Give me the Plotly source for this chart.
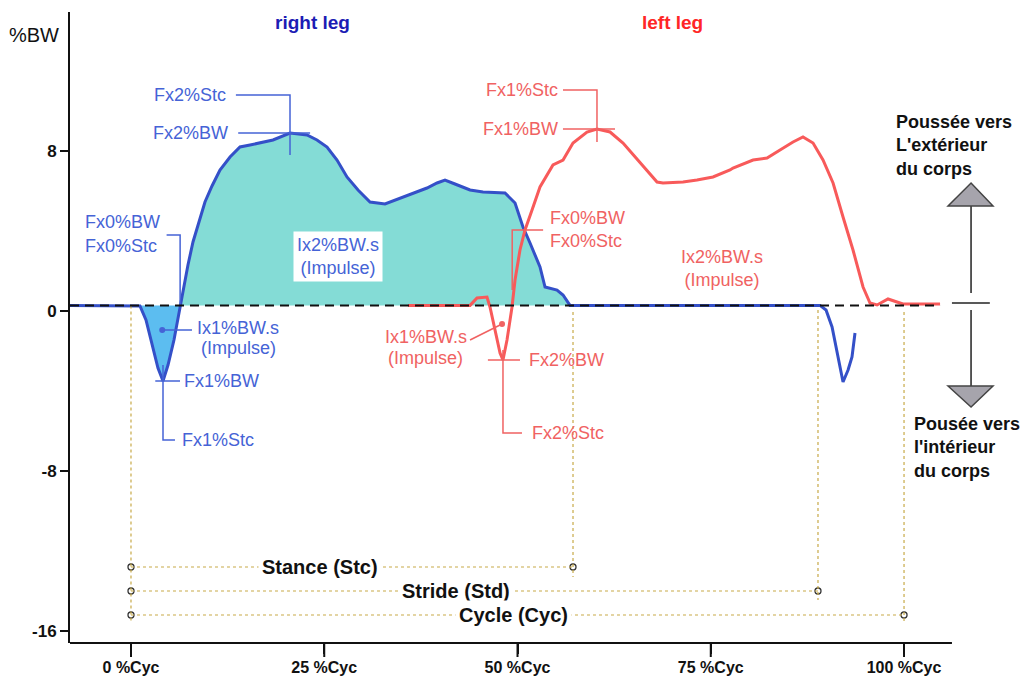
import numpy as np
import plotly.graph_objects as go

# Medio-lateral ground reaction force over one gait cycle
# x: % of gait cycle, y: force in % body weight
right_x = [-7.9, 0.0, 1.16, 1.94, 2.72, 3.49, 4.14, 4.79, 5.56, 6.34, 6.86, 7.37, 8.02,
           8.67, 9.57, 10.48, 11.51, 12.81, 14.1, 15.4, 16.69, 18.37, 20.57, 21.86, 22.77,
           24.06, 25.36, 26.65, 27.94, 29.37, 30.92, 32.86, 34.8, 36.74, 38.29, 39.59,
           40.62, 41.91, 43.86, 45.54, 48.38, 49.68, 50.71, 51.62, 52.91, 53.56, 55.11,
           55.89, 56.79, 89.13, 89.91, 90.69, 91.46, 92.11, 92.76, 93.27, 93.66]
right_y = [0.28, 0.28, 0.25, -0.45, -1.7, -2.85, -3.5, -2.7, -1.45, 0.25, 1.3, 2.3, 3.45,
           4.3, 5.45, 6.25, 7.05, 7.7, 8.2, 8.3, 8.4, 8.55, 8.9, 8.85, 8.8,
           8.55, 8.2, 7.55, 6.7, 6.05, 5.45, 5.35, 5.65, 5.95, 6.15, 6.4,
           6.55, 6.35, 6.05, 5.95, 5.9, 5.4, 4.2, 3.4, 2.2, 1.2, 1.05,
           0.8, 0.28, 0.28, 0.05, -0.8, -2.2, -3.55, -2.95, -2.3, -1.1]

left_x = [35.83, 43.86, 44.76, 46.05, 46.44, 47.09, 47.74, 48.12, 48.64, 49.29, 49.68,
          50.32, 50.97, 51.88, 52.91, 54.59, 55.89, 57.18, 58.99, 60.28, 61.97, 63.65,
          65.85, 68.05, 68.82, 71.41, 73.22, 75.29, 77.49, 77.88, 80.47, 82.28, 83.96,
          85.64, 86.93, 88.23, 89.52, 90.82, 92.11, 93.4, 94.7, 95.6, 96.51, 97.28,
          97.93, 99.09, 99.87, 104.66]
left_y = [0.28, 0.28, 0.65, 0.7, 0.2, -0.95, -2.1, -2.45, -1.45, 0.2, 1.55,
          3.05, 4.05, 5.05, 6.2, 7.3, 7.55, 8.4, 8.95, 9.1, 8.95, 8.4,
          7.4, 6.45, 6.4, 6.45, 6.55, 6.7, 7.05, 7.15, 7.55, 7.65, 8.05,
          8.45, 8.7, 8.4, 7.55, 6.4, 4.7, 3.05, 1.2, 0.4, 0.3, 0.45,
          0.6, 0.45, 0.35, 0.35]

BASELINE = 0.28
STANCE_END = 57.18
STRIDE_END = 88.87
CYCLE_END = 100.0

x_ticks = [0, 25, 50, 75, 100]
x_tick_labels = ["0 %Cyc", "25 %Cyc", "50 %Cyc", "75 %Cyc", "100 %Cyc"]
y_ticks = [8, 0, -8, -16]
y_tick_labels = ["8", "0", "-8", "-16"]

BLUE = "#3450c8"
BLUE_TXT = "#4563d6"
RED = "#f85a5a"
RED_TXT = "#f06262"
TEAL = "#84dcd6"
SKY = "#5cbdf0"
GUIDE = "#c8aa48"
FONT = "Liberation Sans, Arial, sans-serif"

X_MIN, X_MAX = -7.89, 115.52
Y_MIN, Y_MAX = -16.6, 14.95
AXIS_END = 106.2
PLOT_H = 677 - 12 - 34

rx, ry = np.array(right_x), np.array(right_y)
lx, ly = np.array(left_x), np.array(left_y)
in_stance = rx <= STANCE_END
pos_part = np.where(in_stance, np.maximum(ry, BASELINE), BASELINE)
neg_part = np.where(in_stance, np.minimum(ry, BASELINE), BASELINE)


def peak(x, y, mask):
    i = np.argmax(np.where(mask, y, -np.inf))
    return x[i], y[i]


def trough(x, y, mask):
    i = np.argmin(np.where(mask, y, np.inf))
    return x[i], y[i]


def rise_crossing(x, y, start):
    for j in range(start, len(x) - 1):
        if y[j] < BASELINE <= y[j + 1]:
            return x[j] + (BASELINE - y[j]) * (x[j + 1] - x[j]) / (y[j + 1] - y[j])
    return x[start]


r_pk_x, r_pk_y = peak(rx, ry, in_stance)
r_mn_x, r_mn_y = trough(rx, ry, in_stance)
r_cross = rise_crossing(rx, ry, int(np.argmin(np.where(in_stance, ry, np.inf))))

l_stance = lx <= 100
l_pk_x, l_pk_y = peak(lx, ly, l_stance)
l_mn_x, l_mn_y = trough(lx, ly, l_stance)
l_cross = rise_crossing(lx, ly, int(np.argmin(ly)))

fig = go.Figure()

# impulse areas of the right leg
fig.add_trace(go.Scatter(x=rx, y=np.full(rx.shape, BASELINE), mode="lines",
                         line=dict(width=0), hoverinfo="skip"))
fig.add_trace(go.Scatter(x=rx, y=pos_part, mode="lines", line=dict(width=0),
                         fill="tonexty", fillcolor=TEAL, hoverinfo="skip"))
fig.add_trace(go.Scatter(x=rx, y=np.full(rx.shape, BASELINE), mode="lines",
                         line=dict(width=0), hoverinfo="skip"))
fig.add_trace(go.Scatter(x=rx, y=neg_part, mode="lines", line=dict(width=0),
                         fill="tonexty", fillcolor=SKY, hoverinfo="skip"))

# force curves
fig.add_trace(go.Scatter(x=rx, y=ry, mode="lines", line=dict(color=BLUE, width=3)))
fig.add_trace(go.Scatter(x=lx, y=ly, mode="lines", line=dict(color=RED, width=3)))


def leader(xs, ys, color):
    fig.add_trace(go.Scatter(x=xs, y=ys, mode="lines",
                             line=dict(color=color, width=1.5), hoverinfo="skip"))


def dot(x, y, color):
    fig.add_trace(go.Scatter(x=[x], y=[y], mode="markers",
                             marker=dict(color=color, size=6), hoverinfo="skip"))


# right leg leaders
leader([r_pk_x - 7.0, r_pk_x, r_pk_x], [10.8, 10.8, r_pk_y - 1.1], BLUE_TXT)
leader([r_pk_x - 6.7, r_pk_x + 2.6], [r_pk_y, r_pk_y], BLUE_TXT)
leader([r_cross - 1.75, r_cross, r_cross], [3.8, 3.8, BASELINE], BLUE_TXT)
leader([r_mn_x - 1.0, r_mn_x + 2.2], [r_mn_y, r_mn_y], BLUE_TXT)
leader([r_mn_x, r_mn_x, r_mn_x + 1.55], [r_mn_y + 0.8, -6.45, -6.45], BLUE_TXT)
leader([r_mn_x - 0.1, 7.89], [-0.95, -0.95], BLUE_TXT)
dot(r_mn_x - 0.1, -0.95, BLUE_TXT)

# left leg leaders
leader([l_pk_x - 4.4, l_pk_x, l_pk_x], [11.05, 11.05, l_pk_y - 0.65], RED_TXT)
leader([l_pk_x - 4.4, l_pk_x + 2.33], [l_pk_y, l_pk_y], RED_TXT)
leader([l_cross + 4.0, l_cross, l_cross], [4.05, 4.05, 1.05], RED_TXT)
leader([l_mn_x - 1.95, l_mn_x + 2.2], [l_mn_y, l_mn_y], RED_TXT)
leader([l_mn_x, l_mn_x, l_mn_x + 2.46], [l_mn_y + 0.5, -6.1, -6.1], RED_TXT)
leader([43.86, l_mn_x - 0.12], [-1.45, -0.65], RED_TXT)
dot(l_mn_x - 0.12, -0.65, RED_TXT)

# phase markers
phase_ends = [STANCE_END, STRIDE_END, CYCLE_END]
phase_rows = [-12.8, -14.0, -15.2]
phase_names = ["Stance (Stc)", "Stride (Std)", "Cycle (Cyc)"]
phase_label_x = [24.45, 42.0, 49.5]
phase_tops = [-0.05, 0.05, -0.05]
phase_bottoms = [-13.3, -14.45, -15.55]

shapes = []
shapes.append(dict(type="line", x0=0, x1=0, y0=BASELINE, y1=-15.55,
                   line=dict(color=GUIDE, width=1.2, dash="dot")))
for end, row, top, bot in zip(phase_ends, phase_rows, phase_tops, phase_bottoms):
    shapes.append(dict(type="line", x0=end, x1=end, y0=top, y1=bot,
                       line=dict(color=GUIDE, width=1.2, dash="dot")))
    shapes.append(dict(type="line", x0=0, x1=end, y0=row, y1=row,
                       line=dict(color=GUIDE, width=1.2, dash="dot")))

fig.add_trace(go.Scatter(
    x=[0, 0, 0] + phase_ends, y=phase_rows + phase_rows, mode="markers",
    marker=dict(symbol="circle-open", size=6, color="#333333", line=dict(width=1.3)),
    hoverinfo="skip"))

# zero reference, x axis line and its long tick marks
shapes.append(dict(type="line", x0=X_MIN, x1=104.66, y0=BASELINE, y1=BASELINE,
                   line=dict(color="#111111", width=2, dash="9px,6px")))
shapes.append(dict(type="line", x0=X_MIN, x1=AXIS_END, y0=0, y1=0, yref="paper",
                   line=dict(color="#111111", width=2)))
for t in x_ticks:
    shapes.append(dict(type="line", x0=t, x1=t, y0=0, y1=-14 / PLOT_H, yref="paper",
                       line=dict(color="#111111", width=2)))

# direction arrows
ax_c = 108.67
shapes.append(dict(type="line", x0=106.2, x1=111.1, y0=0.4, y1=0.4,
                   line=dict(color="#222222", width=1.5)))
shapes.append(dict(type="line", x0=ax_c, x1=ax_c, y0=0.9, y1=5.3,
                   line=dict(color="#222222", width=1.5)))
shapes.append(dict(type="line", x0=ax_c, x1=ax_c, y0=0.05, y1=-3.8,
                   line=dict(color="#222222", width=1.5)))
shapes.append(dict(type="path", path=f"M 105.69,5.25 L {ax_c},6.4 L 111.51,5.25 Z",
                   fillcolor="#a6a4ac", line=dict(color="#444444", width=1.5)))
shapes.append(dict(type="path", path=f"M 105.69,-3.75 L {ax_c},-4.8 L 111.51,-3.75 Z",
                   fillcolor="#a6a4ac", line=dict(color="#444444", width=1.5)))

ann = []


def label(text, x, y, color, xanchor="left", size=18, bold=False, bg=None, align="left"):
    d = dict(text=f"<b>{text}</b>" if bold else text, x=x, y=y, xref="x", yref="y",
             showarrow=False, xanchor=xanchor, yanchor="middle", align=align,
             font=dict(family=FONT, size=size, color=color))
    if bg:
        d.update(bgcolor=bg, borderpad=3)
    ann.append(d)


# right leg annotations
label("Fx2%Stc", r_pk_x - 8.0, 10.8, BLUE_TXT, "right")
label("Fx2%BW", r_pk_x - 7.8, r_pk_y, BLUE_TXT, "right")
label("Fx0%BW", -6.21, 4.45, BLUE_TXT)
label("Fx0%Stc", -6.21, 3.25, BLUE_TXT)
label("Ix2%BW.s<br>(Impulse)", 26.78, 2.75, BLUE_TXT, "center", bg="white", align="center")
label("Ix1%BW.s", 8.28, -0.85, BLUE_TXT)
label("(Impulse)", 8.8, -1.85, BLUE_TXT)
label("Fx1%BW", r_mn_x + 2.45, r_mn_y, BLUE_TXT)
label("Fx1%Stc", r_mn_x + 2.2, -6.45, BLUE_TXT)

# left leg annotations
label("Fx1%Stc", l_pk_x - 4.8, 11.05, RED_TXT, "right")
label("Fx1%BW", l_pk_x - 4.8, l_pk_y, RED_TXT, "right")
label("Fx0%BW", l_cross + 4.66, 4.65, RED_TXT)
label("Fx0%Stc", l_cross + 4.66, 3.5, RED_TXT)
label("Ix2%BW.s<br>(Impulse)", 76.46, 2.15, RED_TXT, "center", align="center")
label("Ix1%BW.s", 38.1, -1.3, RED_TXT, "center")
label("(Impulse)", 38.1, -2.35, RED_TXT, "center")
label("Fx2%BW", l_mn_x + 3.1, l_mn_y, RED_TXT)
label("Fx2%Stc", l_mn_x + 3.5, -6.1, RED_TXT)

# phase labels
for name, lx_, row in zip(phase_names, phase_label_x, phase_rows):
    label(name, lx_, row, "#111111", "center", size=20, bold=True, bg="white")

# legs
label("right leg", 23.54, 14.45, "#1c1cb4", "center", size=19, bold=True)
label("left leg", 70.0, 14.45, "#ff2626", "center", size=19, bold=True)

# push direction notes
label("Poussée vers<br>L'extérieur<br>du corps", 98.7, 8.3, "#111111", size=18, bold=True)
label("Pousée vers<br>l'intérieur<br>du corps", 101.03, -6.8, "#111111", size=18, bold=True)

ann.append(dict(text="%BW", x=-0.0377, y=13.8, xref="paper", yref="y", showarrow=False,
                xanchor="center", yanchor="middle",
                font=dict(family=FONT, size=20, color="#111111")))

fig.update_layout(
    width=1024, height=677,
    margin=dict(l=70, r=0, t=12, b=34),
    paper_bgcolor="white", plot_bgcolor="white",
    showlegend=False,
    shapes=shapes,
    annotations=ann,
    xaxis=dict(range=[X_MIN, X_MAX], tickvals=x_ticks, ticktext=x_tick_labels,
               ticks="outside", ticklen=10, tickwidth=2, tickcolor="#111111",
               showline=False, showgrid=False, zeroline=False, automargin=False,
               tickfont=dict(family=FONT, size=16, color="#111111", weight="bold")),
    yaxis=dict(range=[Y_MIN, Y_MAX], tickvals=y_ticks, ticktext=y_tick_labels,
               ticks="outside", ticklen=8, tickwidth=2, tickcolor="#111111",
               showline=True, linecolor="#111111", linewidth=2,
               showgrid=False, zeroline=False, automargin=False,
               tickfont=dict(family=FONT, size=17, color="#111111", weight="bold")),
)

fig.write_html("out.html")
